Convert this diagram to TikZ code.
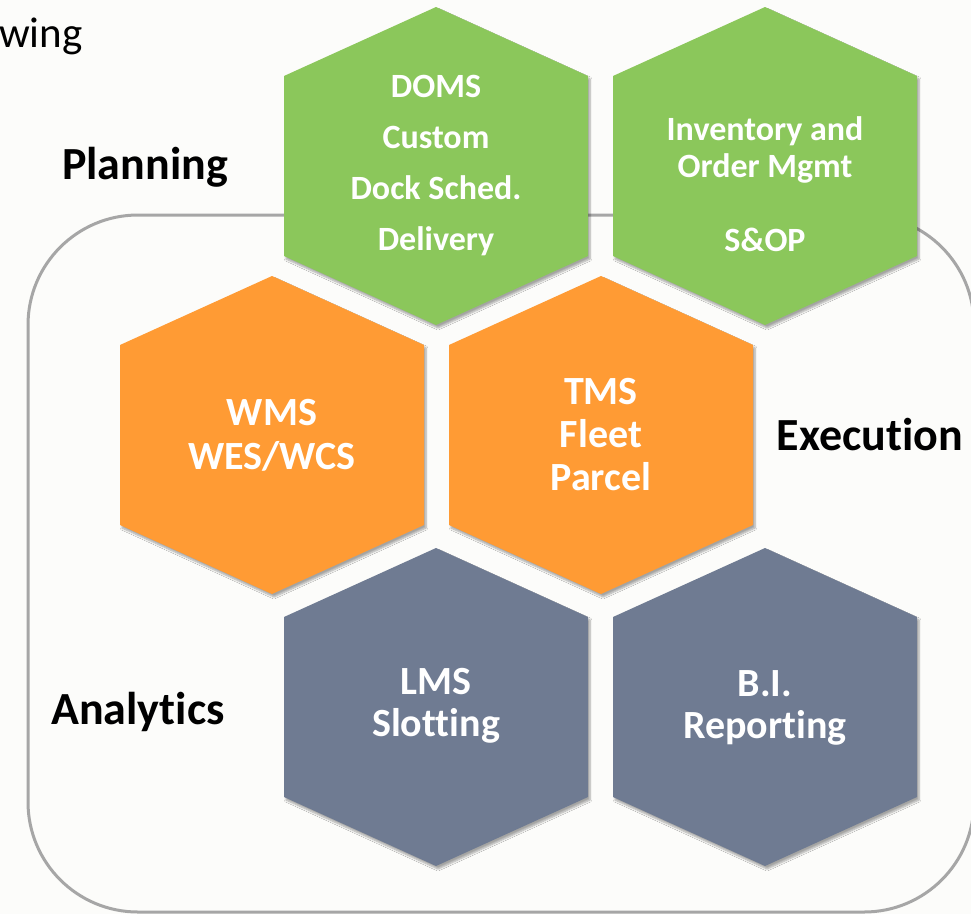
\documentclass[tikz,border=0pt]{standalone}
\usepackage{fontspec}
\setmainfont[Ligatures=NoCommon]{Carlito}
\usetikzlibrary{shadows.blur}
\definecolor{slidebg}{HTML}{FCFCFA}
\definecolor{plangreen}{HTML}{8BC75B}
\definecolor{execorange}{HTML}{FF9B34}
\definecolor{anaslate}{HTML}{6F7B92}
\definecolor{framegray}{HTML}{A6A6A6}
\tikzset{
  hexshade/.style={blur shadow={shadow xshift=2pt,shadow yshift=-3pt,shadow blur steps=6,shadow opacity=35}},
  hextext/.style={text=white,align=center,inner sep=0pt},
  layerlabel/.style={font=\bfseries\fontsize{46}{52}\selectfont,inner sep=0pt}
}
\begin{document}
\begin{tikzpicture}[x=1pt,y=-1pt]
\fill[slidebg] (0,0) rectangle (971,914);
\useasboundingbox (0,0) rectangle (971,914);
\node[anchor=base west,inner sep=0pt,font=\fontsize{43}{50}\selectfont] (wing) at (-1,47) {wing};
\draw[framegray,line width=3pt,rounded corners=110pt] (28,215) rectangle (974,912);
\foreach \cx/\cy/\col in {436/166/plangreen,765/166/plangreen,272/435/execorange,601/435/execorange,436/707/anaslate,765/707/anaslate}
  \fill[\col,hexshade,shift={(\cx,\cy)}] (0,-159) -- (152,-90) -- (152,90) -- (0,159) -- (-152,90) -- (-152,-90) -- cycle;
\node[hextext,font=\bfseries\fontsize{34}{51}\selectfont] (doms) at (436,166) {DOMS\\Custom\\Dock Sched.\\Delivery};
\node[hextext,font=\bfseries\fontsize{34}{37}\selectfont] (inventory) at (765,184) {Inventory and\\Order Mgmt\\\\S\&OP};
\node[hextext,font=\bfseries\fontsize{40}{44}\selectfont] (wms) at (272,435) {WMS\\WES/WCS};
\node[hextext,font=\bfseries\fontsize{40}{43}\selectfont] (tms) at (601,435) {TMS\\Fleet\\Parcel};
\node[hextext,font=\bfseries\fontsize{40}{42}\selectfont] (lms) at (436,706) {LMS\\Slotting};
\node[hextext,font=\bfseries\fontsize{40}{42}\selectfont] (bi) at (765,708) {B.I.\\Reporting};
\node[layerlabel] (planning) at (145,167) {Planning};
\node[layerlabel] (execution) at (870,435) {Execution};
\node[layerlabel] (analytics) at (138,712) {Analytics};
\end{tikzpicture}
\end{document}
